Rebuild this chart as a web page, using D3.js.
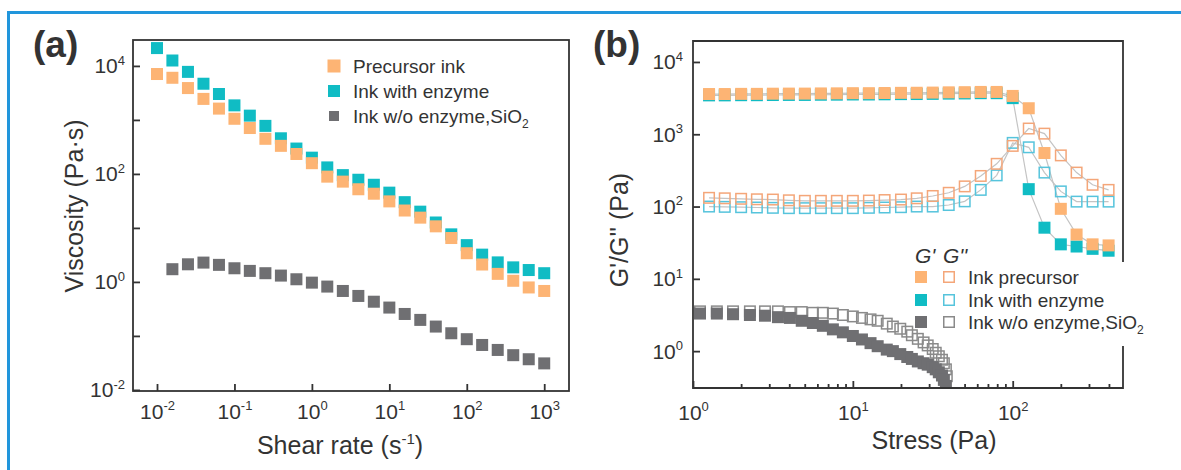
<!DOCTYPE html>
<html><head><meta charset="utf-8">
<script src="https://cdn.jsdelivr.net/npm/d3@7"></script>
<style>body{margin:0;background:#fff} text{font-family:"Liberation Sans",Arial,Helvetica,sans-serif;fill:#333}</style>
</head><body><svg id="c" width="1181" height="470"></svg>
<script>
// ---------- Panel (a) data ----------
const shearRate = [0.01,0.0158,0.0251,0.0398,0.0631,0.1,0.158,0.251,0.398,0.631,1,1.58,2.51,3.98,6.31,10,15.8,25.1,39.8,63.1,100,158,251,398,631,1000];
const viscPrecursor = [7080,6030,3890,2450,1620,1050,708,447,331,234,158,89,72,52,43,31,21,15.5,10.7,6.5,3.4,2.1,1.41,1.05,0.79,0.68];
const viscEnzyme = [21400,12600,7760,4680,3020,1860,1200,776,457,295,200,132,95,78,63,45,30,20,12.6,7.6,4.8,3.2,2.3,1.86,1.66,1.45];
const shearRateSiO2 = shearRate.slice(1);
const viscNoEnzyme = [1.72,2.12,2.28,2.07,1.79,1.60,1.45,1.31,1.12,0.97,0.82,0.68,0.55,0.43,0.335,0.255,0.198,0.149,0.112,0.087,0.068,0.055,0.044,0.037,0.031];
const tickA_x = [0.01,0.1,1,10,100,1000];
const tickA_y = [0.01,0.1,1,10,100,1000,10000];
const legendA = ["Precursor ink","Ink with enzyme","Ink w/o enzyme,SiO"];

// ---------- Panel (b) data ----------
const stress = [1.26,1.58,2.0,2.51,3.16,3.98,5.01,6.31,7.94,10,12.6,15.8,20,25.1,31.6,39.8,50.1,63.1,79.4,100,126,158,200,251,316,398];
const gp_precursor = [3600,3600,3620,3620,3640,3650,3650,3670,3680,3700,3700,3720,3740,3750,3770,3800,3820,3850,3850,3390,2290,550,93,41,30,29];
const gpp_precursor = [132,130,128,126,125,122,120,120,120,120,121,123,125,130,140,155,190,265,390,690,1200,1020,510,295,200,170];
const gp_enzyme = [3450,3450,3470,3470,3490,3500,3500,3520,3530,3550,3550,3570,3590,3600,3620,3650,3670,3700,3700,3160,174,51,30,28,26,24.5];
const gpp_enzyme = [100,99,98,97,96,95,95,95,95,95,96,97,98,100,100,105,118,170,270,760,660,295,162,117,117,117];
const stressSiO2 = [1.106,1.41,1.78,2.27,2.82,3.40,4.04,4.79,5.62,6.49,7.50,8.66,10.0,11.4,12.9,14.3,16.3,17.8,19.8,21.9,23.4,25.5,27.7,29.4,31.6,33.0,34.5,36.1,37.1,38.2,38.7];
const gp_noEnzyme = [3.31,3.31,3.24,3.16,3.09,2.95,2.88,2.63,2.45,2.24,2.0,1.82,1.62,1.45,1.29,1.17,1.05,1.0,0.91,0.83,0.78,0.72,0.68,0.65,0.60,0.56,0.51,0.46,0.40,0.33,0.25];
const gpp_noEnzyme = [3.55,3.55,3.55,3.55,3.55,3.55,3.47,3.47,3.39,3.39,3.31,3.16,3.02,2.88,2.75,2.63,2.40,2.19,2.04,1.86,1.66,1.48,1.32,1.20,1.07,0.95,0.85,0.76,0.68,0.56,0.45];
const tickB_xMajor = [1,10,100];
const tickB_xMinor = [2,3,4,5,6,7,8,9,20,30,40,50,60,70,80,90,200,300,400];
const tickB_y = [1,10,100,1000,10000];
const legendB = ["Ink precursor","Ink with enzyme","Ink w/o enzyme,SiO"];

// ---------- styles ----------
const C_OR = "#fdb474", C_TE = "#10bcc4", C_GR = "#6f6f72";
const C_OR_O = "#f4a679", C_TE_O = "#56c4dc", C_GR_O = "#8a8a8a";
const AX = "#333";

const svg = d3.select("#c");

// frame
svg.append("path").attr("d","M8.5,470V12.5H1181").attr("fill","none").attr("stroke","#2196dc").attr("stroke-width",3);

function sup(sel, d, fs){
  const e = Math.round(Math.log10(d));
  sel.text("10");
  sel.append("tspan").attr("dy", -fs*0.42).attr("font-size", fs*0.62).text(e);
}

// ================= Panel (a) =================
const xA = d3.scaleLog().domain([Math.pow(10,-2.31), Math.pow(10,3.32)]).range([133,569]);
const yA = d3.scaleLog().domain([Math.pow(10,-2.02), Math.pow(10,4.48)]).range([391,40]);

const gA = svg.append("g");
gA.append("rect").attr("x",133).attr("y",40).attr("width",436).attr("height",351).attr("fill","none").attr("stroke",AX).attr("stroke-width",1.8);

const axAx = gA.append("g").attr("transform","translate(0,391)")
  .call(d3.axisBottom(xA).tickValues(tickA_x).tickSizeInner(-7).tickSizeOuter(0).tickFormat(""));
const axAy = gA.append("g").attr("transform","translate(133,0)")
  .call(d3.axisLeft(yA).tickValues(tickA_y).tickSizeInner(-7).tickSizeOuter(0).tickFormat(""));
[axAx, axAy].forEach(a=>{a.select(".domain").remove(); a.selectAll("line").attr("stroke",AX).attr("stroke-width",1.8);});
axAx.selectAll(".tick").append("text").attr("y",28).attr("text-anchor","middle").attr("font-size",21).attr("fill","#333")
  .each(function(d){sup(d3.select(this), d, 21);});
axAy.selectAll(".tick").filter(d=>Math.round(Math.log10(d))%2===0).append("text").attr("x",-8).attr("y",7).attr("text-anchor","end").attr("font-size",21).attr("fill","#333")
  .each(function(d){sup(d3.select(this), d, 21);});

const sA = 12;
function squaresA(xs, ys, col){
  gA.append("g").selectAll("rect").data(ys).join("rect")
    .attr("x",(d,i)=>xA(xs[i])-sA/2).attr("y",d=>yA(d)-sA/2).attr("width",sA).attr("height",sA).attr("fill",col);
}
squaresA(shearRate, viscEnzyme, C_TE);
squaresA(shearRate, viscPrecursor, C_OR);
squaresA(shearRateSiO2, viscNoEnzyme, C_GR);

// legend (a)
const legA = gA.append("g");
const colsA = [C_OR, C_TE, C_GR], sizesA=[13,12,10], rowA=[66,91,116];
legendA.forEach((t,i)=>{
  legA.append("rect").attr("x",334-sizesA[i]/2).attr("y",rowA[i]-sizesA[i]/2).attr("width",sizesA[i]).attr("height",sizesA[i]).attr("fill",colsA[i]);
  const tx = legA.append("text").attr("x",353).attr("y",rowA[i]+7).attr("font-size",19).text(t);
  if(i===2) tx.append("tspan").attr("dy",5).attr("font-size",12).text("2");
});

// titles (a)
const tA = gA.append("text").attr("x",340).attr("y",454).attr("text-anchor","middle").attr("font-size",25).text("Shear rate (s");
tA.append("tspan").attr("dy",-10).attr("font-size",15).text("-1");
tA.append("tspan").attr("dy",10).attr("font-size",25).text(")");
gA.append("text").attr("transform","translate(83,206) rotate(-90)").attr("text-anchor","middle").attr("font-size",25).text("Viscosity (Pa·s)");
gA.append("text").attr("x",33).attr("y",57).attr("font-size",37).attr("font-weight","bold").attr("fill","#222").text("(a)");

// ================= Panel (b) =================
const xB = d3.scaleLog().domain([1, Math.pow(10,2.69)]).range([693,1123]);
const yB = d3.scaleLog().domain([Math.pow(10,-0.51), Math.pow(10,4.29)]).range([388,41]);
const gB = svg.append("g");
gB.append("clipPath").attr("id","clipB").append("rect").attr("x",693).attr("y",41).attr("width",430).attr("height",347);

const axBxMin = gB.append("g").attr("transform","translate(0,388)")
  .call(d3.axisBottom(xB).tickValues(tickB_xMinor).tickSizeInner(-4).tickSizeOuter(0).tickFormat(""));
const axBx = gB.append("g").attr("transform","translate(0,388)")
  .call(d3.axisBottom(xB).tickValues(tickB_xMajor).tickSizeInner(-7).tickSizeOuter(0).tickFormat(""));
const axBy = gB.append("g").attr("transform","translate(693,0)")
  .call(d3.axisLeft(yB).tickValues(tickB_y).tickSizeInner(-7).tickSizeOuter(0).tickFormat(""));
[axBxMin, axBx, axBy].forEach(a=>{a.select(".domain").remove(); a.selectAll("line").attr("stroke",AX).attr("stroke-width",1.8);});
axBx.selectAll(".tick").append("text").attr("y",32).attr("text-anchor","middle").attr("font-size",21).attr("fill","#333")
  .each(function(d){sup(d3.select(this), d, 21);});
axBy.selectAll(".tick").append("text").attr("x",-10).attr("y",7).attr("text-anchor","end").attr("font-size",21).attr("fill","#333")
  .each(function(d){sup(d3.select(this), d, 21);});

const plotB = gB.append("g").attr("clip-path","url(#clipB)");
const lineB = (xs)=>d3.line().x((d,i)=>xB(xs[i])).y(d=>yB(d));
[[stress,gpp_enzyme],[stress,gpp_precursor],[stress,gp_enzyme],[stress,gp_precursor]].forEach(([xs,ys])=>{
  plotB.append("path").attr("d",lineB(xs)(ys)).attr("fill","none").attr("stroke","#c4c4c4").attr("stroke-width",1.2);
});
const sB = 12;
function filledB(xs, ys, col){
  plotB.append("g").selectAll("rect").data(ys).join("rect")
    .attr("x",(d,i)=>xB(xs[i])-sB/2).attr("y",d=>yB(d)-sB/2).attr("width",sB).attr("height",sB).attr("fill",col);
}
function openB(xs, ys, col){
  plotB.append("g").selectAll("rect").data(ys).join("rect")
    .attr("x",(d,i)=>xB(xs[i])-(sB-1.5)/2).attr("y",d=>yB(d)-(sB-1.5)/2).attr("width",sB-1.5).attr("height",sB-1.5)
    .attr("fill","none").attr("stroke",col).attr("stroke-width",1.5);
}
openB(stress, gpp_enzyme, C_TE_O);
openB(stress, gpp_precursor, C_OR_O);
filledB(stress, gp_enzyme, C_TE);
filledB(stress, gp_precursor, C_OR);
openB(stressSiO2, gpp_noEnzyme, C_GR_O);
filledB(stressSiO2, gp_noEnzyme, C_GR);

// legend (b) background + frame
gB.append("rect").attr("x",962).attr("y",262).attr("width",190).attr("height",84).attr("fill","#fff");
gB.append("path").attr("d","M1123,262V41H693V388H1123V346").attr("fill","none").attr("stroke",AX).attr("stroke-width",1.8);

const legB = gB.append("g");
legB.append("text").attr("x",915).attr("y",263).attr("font-size",21).attr("font-style","italic").text("G'");
legB.append("text").attr("x",943).attr("y",263).attr("font-size",21).attr("font-style","italic").text("G''");
const rowB=[277,300,322], fillB=[C_OR,C_TE,C_GR], strB=[C_OR_O,C_TE_O,C_GR_O];
legendB.forEach((t,i)=>{
  legB.append("rect").attr("x",915).attr("y",rowB[i]-6).attr("width",12).attr("height",12).attr("fill",fillB[i]);
  legB.append("rect").attr("x",943.75).attr("y",rowB[i]-5.25).attr("width",10.5).attr("height",10.5).attr("fill","none").attr("stroke",strB[i]).attr("stroke-width",1.5);
  const tx = legB.append("text").attr("x",968).attr("y",rowB[i]+7).attr("font-size",19).text(t);
  if(i===2) tx.append("tspan").attr("dy",5).attr("font-size",12).text("2");
});

// titles (b)
gB.append("text").attr("x",934).attr("y",449).attr("text-anchor","middle").attr("font-size",25).text("Stress (Pa)");
gB.append("text").attr("transform","translate(628,230) rotate(-90)").attr("text-anchor","middle").attr("font-size",25).text("G'/G'' (Pa)");
gB.append("text").attr("x",593).attr("y",57).attr("font-size",37).attr("font-weight","bold").attr("fill","#222").text("(b)");
</script></body></html>
